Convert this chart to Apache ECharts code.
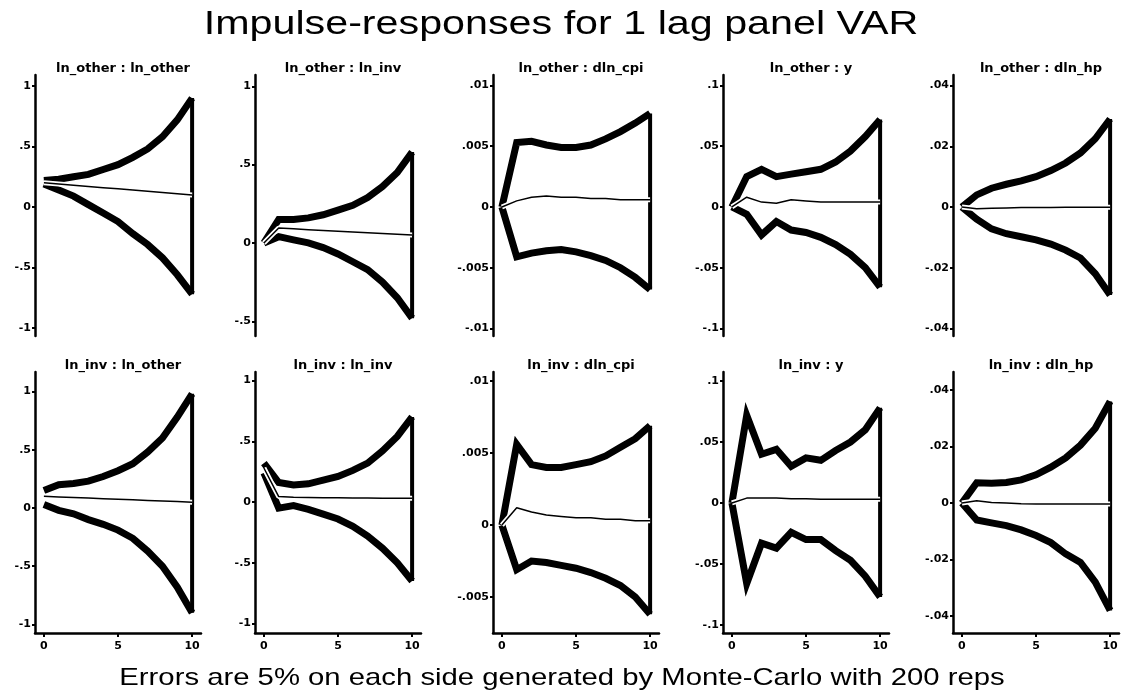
<!DOCTYPE html>
<html>
<head>
<meta charset="utf-8">
<title>Impulse-responses for 1 lag panel VAR</title>
<script src="https://cdn.jsdelivr.net/npm/echarts@6/dist/echarts.min.js"></script>
<style>
  html, body { margin: 0; padding: 0; background: #fff; }
  #chart { width: 1123px; height: 697px; }
</style>
</head>
<body>
<div id="chart"></div>
<script>
  // horizon (steps after the shock)
  const steps = [0, 1, 2, 3, 4, 5, 6, 7, 8, 9, 10];
  const xTicks = [0, 5, 10];

  const mainTitle = 'Impulse-responses for 1 lag panel VAR';
  const footNote = 'Errors are 5% on each side generated by Monte-Carlo with 200 reps';
  const panelTitles = [
    'ln_other : ln_other', 'ln_other : ln_inv', 'ln_other : dln_cpi', 'ln_other : y', 'ln_other : dln_hp',
    'ln_inv : ln_other', 'ln_inv : ln_inv', 'ln_inv : dln_cpi', 'ln_inv : y', 'ln_inv : dln_hp'
  ];

  // shock: ln_other
  const irf_other_other = [0.20, 0.19, 0.18, 0.17, 0.16, 0.15, 0.14, 0.13, 0.12, 0.11, 0.10];
  const lo_other_other  = [0.19, 0.14, 0.09, 0.02, -0.05, -0.12, -0.22, -0.31, -0.42, -0.56, -0.72];
  const hi_other_other  = [0.22, 0.23, 0.25, 0.27, 0.31, 0.35, 0.41, 0.48, 0.58, 0.72, 0.90];

  const irf_other_inv = [0, 0.095, 0.09, 0.085, 0.08, 0.075, 0.07, 0.065, 0.06, 0.055, 0.05];
  const lo_other_inv  = [0, 0.04, 0.02, 0.0, -0.03, -0.07, -0.12, -0.17, -0.25, -0.35, -0.48];
  const hi_other_inv  = [0, 0.15, 0.15, 0.16, 0.18, 0.21, 0.24, 0.29, 0.36, 0.45, 0.58];

  const irf_other_cpi = [0, 0.0005, 0.0008, 0.0009, 0.0008, 0.0008, 0.0007, 0.0007, 0.0006, 0.0006, 0.0006];
  const lo_other_cpi  = [0, -0.0041, -0.0038, -0.0036, -0.0035, -0.0037, -0.004, -0.0044, -0.005, -0.0058, -0.0068];
  const hi_other_cpi  = [0, 0.0053, 0.0054, 0.0051, 0.0049, 0.0049, 0.0051, 0.0056, 0.0062, 0.0069, 0.0077];

  const irf_other_y = [0, 0.008, 0.004, 0.003, 0.006, 0.005, 0.004, 0.004, 0.004, 0.004, 0.004];
  const lo_other_y  = [0, -0.006, -0.023, -0.012, -0.019, -0.021, -0.025, -0.031, -0.039, -0.05, -0.066];
  const hi_other_y  = [0, 0.025, 0.031, 0.025, 0.027, 0.029, 0.031, 0.037, 0.046, 0.058, 0.072];

  const irf_other_hp = [0, -0.0006, -0.0004, -0.0003, -0.0002, -0.0002, -0.0002, -0.0001, -0.0001, -0.0001, -0.0001];
  const lo_other_hp  = [0, -0.004, -0.0072, -0.0088, -0.0098, -0.0108, -0.0122, -0.0142, -0.0168, -0.022, -0.029];
  const hi_other_hp  = [0, 0.004, 0.0062, 0.0075, 0.0086, 0.01, 0.012, 0.0145, 0.0178, 0.0225, 0.029];

  // shock: ln_inv
  const irf_inv_other = [0.10, 0.095, 0.09, 0.085, 0.08, 0.075, 0.07, 0.065, 0.06, 0.055, 0.05];
  const lo_inv_other  = [0.03, -0.02, -0.05, -0.10, -0.14, -0.19, -0.26, -0.37, -0.50, -0.68, -0.90];
  const hi_inv_other  = [0.15, 0.20, 0.21, 0.23, 0.27, 0.32, 0.38, 0.48, 0.60, 0.78, 0.98];

  const irf_inv_inv = [0.28, 0.045, 0.04, 0.038, 0.036, 0.035, 0.034, 0.033, 0.032, 0.031, 0.03];
  const lo_inv_inv  = [0.24, -0.05, -0.03, -0.06, -0.10, -0.14, -0.20, -0.28, -0.38, -0.50, -0.65];
  const hi_inv_inv  = [0.32, 0.16, 0.14, 0.15, 0.18, 0.21, 0.26, 0.32, 0.42, 0.54, 0.70];

  const irf_inv_cpi = [0, 0.0012, 0.0009, 0.0007, 0.0006, 0.0005, 0.0005, 0.0004, 0.0004, 0.0003, 0.0003];
  const lo_inv_cpi  = [0, -0.0031, -0.0025, -0.0026, -0.0028, -0.003, -0.0033, -0.0037, -0.0042, -0.005, -0.0062];
  const hi_inv_cpi  = [0, 0.0056, 0.0042, 0.004, 0.004, 0.0042, 0.0044, 0.0048, 0.0054, 0.006, 0.0069];

  const irf_inv_y = [0, 0.004, 0.004, 0.004, 0.0035, 0.0035, 0.003, 0.003, 0.003, 0.003, 0.003];
  const lo_inv_y  = [0, -0.066, -0.033, -0.037, -0.024, -0.03, -0.03, -0.039, -0.047, -0.06, -0.077];
  const hi_inv_y  = [0, 0.072, 0.04, 0.044, 0.03, 0.037, 0.035, 0.043, 0.05, 0.06, 0.078];

  const irf_inv_hp = [0, 0.0008, 0.0002, 0, -0.0002, -0.0003, -0.0003, -0.0003, -0.0003, -0.0003, -0.0003];
  const lo_inv_hp  = [0, -0.006, -0.007, -0.008, -0.0095, -0.0115, -0.014, -0.018, -0.021, -0.028, -0.038];
  const hi_inv_hp  = [0, 0.0072, 0.007, 0.0073, 0.0082, 0.01, 0.0127, 0.016, 0.0205, 0.0265, 0.036];

  // y tick values per panel
  const yTicks_other_other = [-1, -0.5, 0, 0.5, 1];
  const yTicks_other_inv   = [-0.5, 0, 0.5, 1];
  const yTicks_other_cpi   = [-0.01, -0.005, 0, 0.005, 0.01];
  const yTicks_other_y     = [-0.1, -0.05, 0, 0.05, 0.1];
  const yTicks_other_hp    = [-0.04, -0.02, 0, 0.02, 0.04];
  const yTicks_inv_other   = [-1, -0.5, 0, 0.5, 1];
  const yTicks_inv_inv     = [-1, -0.5, 0, 0.5, 1];
  const yTicks_inv_cpi     = [-0.005, 0, 0.005, 0.01];
  const yTicks_inv_y       = [-0.1, -0.05, 0, 0.05, 0.1];
  const yTicks_inv_hp      = [-0.04, -0.02, 0, 0.02, 0.04];

  const panels = [
    {irf: irf_other_other, lo: lo_other_other, hi: hi_other_other, ticks: yTicks_other_other},
    {irf: irf_other_inv, lo: lo_other_inv, hi: hi_other_inv, ticks: yTicks_other_inv},
    {irf: irf_other_cpi, lo: lo_other_cpi, hi: hi_other_cpi, ticks: yTicks_other_cpi},
    {irf: irf_other_y, lo: lo_other_y, hi: hi_other_y, ticks: yTicks_other_y},
    {irf: irf_other_hp, lo: lo_other_hp, hi: hi_other_hp, ticks: yTicks_other_hp},
    {irf: irf_inv_other, lo: lo_inv_other, hi: hi_inv_other, ticks: yTicks_inv_other},
    {irf: irf_inv_inv, lo: lo_inv_inv, hi: hi_inv_inv, ticks: yTicks_inv_inv},
    {irf: irf_inv_cpi, lo: lo_inv_cpi, hi: hi_inv_cpi, ticks: yTicks_inv_cpi},
    {irf: irf_inv_y, lo: lo_inv_y, hi: hi_inv_y, ticks: yTicks_inv_y},
    {irf: irf_inv_hp, lo: lo_inv_hp, hi: hi_inv_hp, ticks: yTicks_inv_hp}
  ];

  // layout: plot region of each panel (stata keeps a margin around the data)
  const colLeft = [35, 255, 493, 723, 953];
  const colWidth = 166;
  const rowTop = [75, 372];
  const rowHeight = 261;
  const yRange = [
    [-1.066, 1.091], [-0.594, 1.072], [-0.01062, 0.01086], [-0.1062, 0.1086], [-0.0425, 0.0435],
    [-1.073, 1.167], [-1.078, 1.07], [-0.0075, 0.01063], [-0.1066, 0.1074], [-0.046, 0.0464]
  ];

  const smallFont = 'DejaVu Sans';
  const bigFont = '"Liberation Sans"';

  // stata style: .5 instead of 0.5
  function stataNum(v) {
    if (v === 0) return '0';
    let s = String(parseFloat(v.toPrecision(8)));
    return s.replace(/^(-?)0\./, '$1.');
  }

  let grids = [], xAxes = [], yAxes = [], series = [], titles = [];

  // the scanned original is stretched sideways, so the big texts get a scaleX
  let graphics = [
    {type: 'text', x: 561, y: 25, scaleX: 1.25, silent: true,
     style: {text: mainTitle, font: '33px ' + bigFont, fill: '#000', textAlign: 'center', verticalAlign: 'middle'}},
    {type: 'text', x: 562, y: 678, scaleX: 1.22, silent: true,
     style: {text: footNote, font: '24px ' + bigFont, fill: '#000', textAlign: 'center', verticalAlign: 'middle'}}
  ];

  panels.forEach(function (p, i) {
    let row = Math.floor(i / 5), col = i % 5;
    let bottomRow = row === 1;
    grids.push({left: colLeft[col], top: rowTop[row], width: colWidth, height: rowHeight, containLabel: false});

    titles.push({
      text: panelTitles[i], left: colLeft[col] + colWidth / 2, top: rowTop[row] - 18, textAlign: 'center',
      textStyle: {fontFamily: smallFont, fontSize: 13, fontWeight: 'bold', color: '#000'}
    });

    xAxes.push({
      gridIndex: i, type: 'value', min: -0.6, max: 10.6, show: bottomRow,
      splitLine: {show: false},
      axisLine: {onZero: false, lineStyle: {color: '#000', width: 2.5}},
      axisTick: {customValues: xTicks, length: 4, lineStyle: {color: '#000', width: 2}},
      axisLabel: {customValues: xTicks, margin: 8, fontFamily: smallFont, fontSize: 11, fontWeight: 'bold', color: '#000'}
    });

    yAxes.push({
      gridIndex: i, type: 'value', min: yRange[i][0], max: yRange[i][1],
      splitLine: {show: false},
      axisLine: {show: true, onZero: false, lineStyle: {color: '#000', width: 2.5}},
      axisTick: {customValues: p.ticks, length: 3, lineStyle: {color: '#000', width: 2}},
      axisLabel: {customValues: p.ticks, margin: 4, fontFamily: smallFont, fontSize: 11, fontWeight: 'bold',
                  color: '#000', formatter: stataNum}
    });

    let pts = arr => steps.map((s, k) => [s, arr[k]]);
    let last = steps.length - 1;
    let base = {type: 'line', xAxisIndex: i, yAxisIndex: i, symbol: 'none', silent: true, animation: false};

    series.push(Object.assign({}, base, {data: pts(p.hi), lineStyle: {color: '#000', width: 7, join: 'miter'}}));
    series.push(Object.assign({}, base, {data: pts(p.lo), lineStyle: {color: '#000', width: 7, join: 'miter'}}));
    // right edge of the band
    series.push(Object.assign({}, base, {
      data: [[steps[last], p.hi[last]], [steps[last], p.lo[last]]],
      lineStyle: {color: '#000', width: 4}
    }));
    // irf with white halo
    series.push(Object.assign({}, base, {data: pts(p.irf), lineStyle: {color: '#fff', width: 5}}));
    series.push(Object.assign({}, base, {data: pts(p.irf), lineStyle: {color: '#000', width: 1.5}}));
  });

  let chart = echarts.init(document.getElementById('chart'));
  chart.setOption({
    backgroundColor: '#fff',
    animation: false,
    title: titles,
    graphic: graphics,
    grid: grids,
    xAxis: xAxes,
    yAxis: yAxes,
    series: series
  });
</script>
</body>
</html>
